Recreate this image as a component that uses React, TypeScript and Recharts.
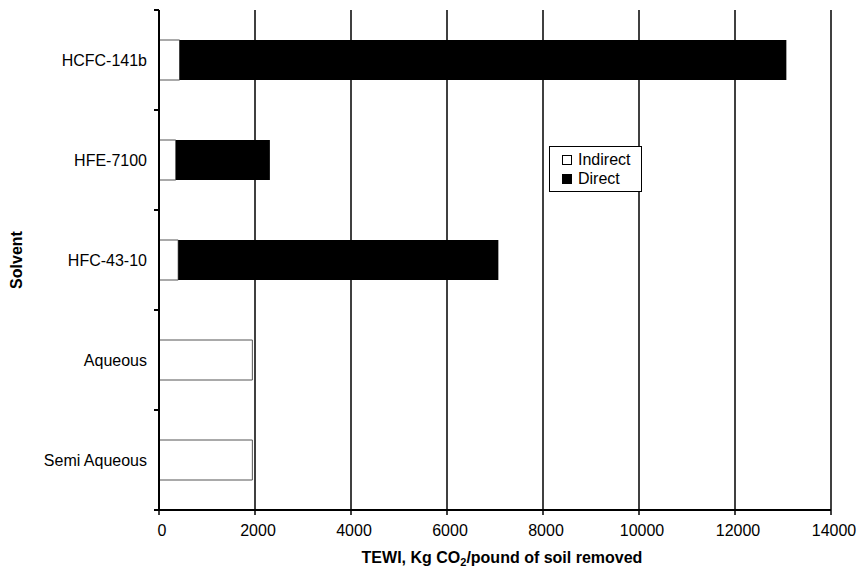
import { BarChart, Bar, XAxis, YAxis, CartesianGrid, Legend } from 'recharts'

const solvents = ['HCFC-141b', 'HFE-7100', 'HFC-43-10', 'Aqueous', 'Semi Aqueous']
const indirect = [430, 350, 400, 1945, 1945]
const direct = [12640, 1960, 6670, 0, 0]
const xTicks = [0, 2000, 4000, 6000, 8000, 10000, 12000, 14000]

const FONT = '"Liberation Sans", Arial, sans-serif'
const LABEL_GAP = 12

const data = solvents.map((name, i) => ({
  name,
  indirect: indirect[i],
  direct: direct[i],
}))

const tickStyle = { fill: '#000', fontSize: 16, fontFamily: FONT }

// category tick: label at band centre, tick marks at the band edges (Excel style)
function SolventTick(props: any) {
  const { x, y, payload, index } = props
  const axisX = x + LABEL_GAP
  const half = payload.offset ?? 0
  return (
    <g>
      <text x={x} y={y} dy="0.355em" textAnchor="end" {...tickStyle}>
        {payload.value}
      </text>
      <line x1={axisX - 5} x2={axisX} y1={y - half} y2={y - half} stroke="#000" strokeWidth={2} />
      {index === solvents.length - 1 && (
        <line x1={axisX - 5} x2={axisX} y1={y + half} y2={y + half} stroke="#000" strokeWidth={2} />
      )}
    </g>
  )
}

function LegendBox() {
  return (
    <div
      style={{
        border: '1.5px solid #000',
        background: '#fff',
        padding: '3px 8px 3px 12px',
        fontFamily: FONT,
        fontSize: 16,
        lineHeight: '19px',
        color: '#000',
        boxSizing: 'border-box',
        width: 93,
      }}
    >
      <div style={{ display: 'flex', alignItems: 'center' }}>
        <span style={{ width: 8, height: 8, border: '1px solid #000', background: '#fff', marginRight: 6 }} />
        Indirect
      </div>
      <div style={{ display: 'flex', alignItems: 'center' }}>
        <span style={{ width: 10, height: 10, background: '#000', marginRight: 6 }} />
        Direct
      </div>
    </div>
  )
}

export default function App() {
  return (
    <div style={{ position: 'absolute', left: 0, top: 0, width: 859, height: 571, background: '#fff' }}>
      <BarChart
        width={859}
        height={571}
        data={data}
        layout="vertical"
        margin={{ top: 10, right: 28, left: 0, bottom: 0 }}
        barSize={40}
      >
        <CartesianGrid horizontal={false} stroke="#000" strokeWidth={1.5} />
        <XAxis
          type="number"
          domain={[0, 14000]}
          ticks={xTicks}
          interval={0}
          height={61}
          axisLine={{ stroke: '#000', strokeWidth: 2 }}
          tickLine={{ stroke: '#000', strokeWidth: 1.5 }}
          tickSize={5}
          tickMargin={10}
          tick={{ ...tickStyle, dx: 3 }}
          label={({ viewBox }: any) => (
            <text
              x={viewBox.x + viewBox.width / 2 + 7}
              y={viewBox.y + 53}
              textAnchor="middle"
              fontFamily={FONT}
              fontSize={16}
              fontWeight="bold"
              fill="#000"
            >
              TEWI, Kg CO<tspan dy={3} fontSize={11}>2</tspan>
              <tspan dy={-3}>/pound of soil removed</tspan>
            </text>
          )}
        />
        <XAxis
          xAxisId="top"
          orientation="top"
          type="number"
          domain={[0, 14000]}
          height={0}
          tick={false}
          tickLine={false}
          axisLine={{ stroke: '#333', strokeWidth: 1 }}
        />
        <YAxis
          type="category"
          dataKey="name"
          width={159}
          axisLine={{ stroke: '#000', strokeWidth: 2 }}
          tickLine={false}
          tickSize={0}
          tickMargin={LABEL_GAP}
          tick={<SolventTick />}
          label={({ viewBox }: any) => (
            <text
              x={viewBox.x + 22}
              y={viewBox.y + viewBox.height / 2}
              transform={`rotate(-90, ${viewBox.x + 22}, ${viewBox.y + viewBox.height / 2})`}
              textAnchor="middle"
              fontFamily={FONT}
              fontSize={16}
              fontWeight="bold"
              fill="#000"
            >
              Solvent
            </text>
          )}
        />
        <Legend
          layout="vertical"
          align="center"
          verticalAlign="middle"
          content={() => <LegendBox />}
          wrapperStyle={{ position: 'absolute', left: 549, top: 146, width: 93 }}
        />
        <Bar dataKey="indirect" name="Indirect" stackId="a" fill="#fff" stroke="#555" strokeWidth={1} isAnimationActive={false} />
        <Bar dataKey="direct" name="Direct" stackId="a" fill="#000" isAnimationActive={false} />
      </BarChart>
    </div>
  )
}
